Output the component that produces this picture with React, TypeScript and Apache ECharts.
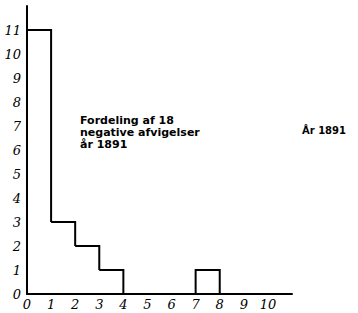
import React, { useEffect, useRef } from "react";
import * as echarts from "echarts";

const binStarts = [0, 1, 2, 3, 4, 5, 6, 7, 8, 9];
const counts = [11, 3, 2, 1, 0, 0, 0, 1, 0, 0];
const xTickLabels = ["0", "1", "2", "3", "4", "5", "6", "7", "8", "9", "10"];
const yTickLabels = ["0", "1", "2", "3", "4", "5", "6", "7", "8", "9", "10", "11"];
const titleLines = ["Fordeling af 18", "negative afvigelser", "år 1891"];
const sideLabel = "År 1891";

export default function App() {
  const ref = useRef<HTMLDivElement>(null);
  useEffect(() => {
    if (!ref.current) return;
    const chart = echarts.init(ref.current, null, { renderer: "svg" });
    const data = binStarts.map((b, i) => [
      b,
      counts[i],
      i > 0 ? counts[i - 1] : 0,
      i < counts.length - 1 ? counts[i + 1] : 0,
    ]);
    const titleGraphics = titleLines.map((t, i) => ({
      type: "text",
      left: 80,
      top: 115 + i * 12,
      style: {
        text: t,
        fill: "#000",
        font: "bold 11px 'DejaVu Sans'",
      },
    }));
    chart.setOption({
      animation: false,
      backgroundColor: "#fff",
      grid: { left: 27, right: 66, top: 6, bottom: 19 },
      xAxis: {
        type: "value",
        min: 0,
        max: 11,
        interval: 1,
        axisLine: { show: true, lineStyle: { color: "#000", width: 2 } },
        axisTick: { show: false },
        splitLine: { show: false },
        axisLabel: {
          margin: 4,
          color: "#000",
          fontFamily: "DejaVu Serif",
          fontStyle: "italic",
          fontSize: 13,
          formatter: (v: number) => (v <= 10 ? xTickLabels[v] : ""),
        },
      },
      yAxis: {
        type: "value",
        min: 0,
        max: 12,
        interval: 1,
        axisLine: { show: true, lineStyle: { color: "#000", width: 2 } },
        axisTick: { show: false },
        splitLine: { show: false },
        axisLabel: {
          margin: 6,
          color: "#000",
          fontFamily: "DejaVu Serif",
          fontStyle: "italic",
          fontSize: 13,
          formatter: (v: number) => (v <= 11 ? yTickLabels[v] : ""),
        },
      },
      series: [
        {
          type: "custom",
          data,
          renderItem: (params: any, api: any) => {
            const x = api.value(0);
            const v = api.value(1);
            const prev = api.value(2);
            const next = api.value(3);
            if (!v) return null;
            const pts: number[][] = [];
            pts.push(api.coord([x, Math.min(prev, v)]));
            pts.push(api.coord([x, v]));
            pts.push(api.coord([x + 1, v]));
            pts.push(api.coord([x + 1, Math.min(next, v)]));
            return {
              type: "polyline",
              shape: { points: pts },
              style: { fill: "none", stroke: "#000", lineWidth: 2 },
            };
          },
        },
      ],
      graphic: [
        ...titleGraphics,
        {
          type: "text",
          left: 302,
          top: 125,
          style: {
            text: sideLabel,
            fill: "#000",
            font: "bold 10px 'DejaVu Sans'",
          },
        },
      ],
    });
    return () => chart.dispose();
  }, []);
  return (
    <div
      ref={ref}
      style={{ position: "fixed", left: 0, top: 0, width: 358, height: 313 }}
    />
  );
}
